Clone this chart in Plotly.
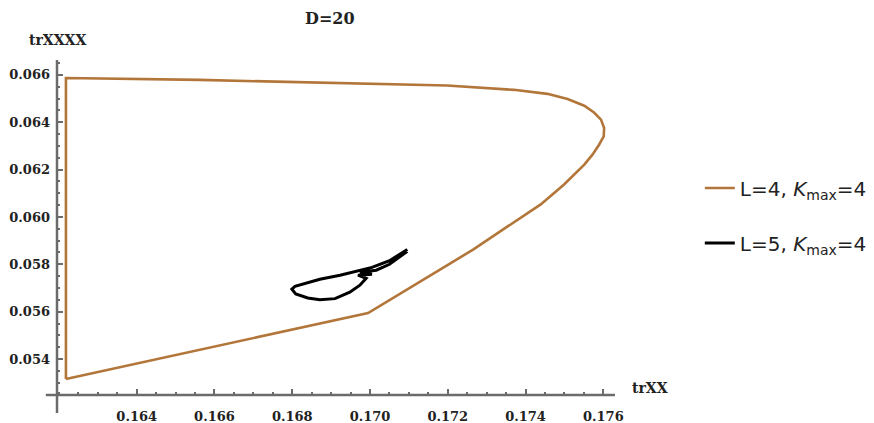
import plotly.graph_objects as go

# Data
orange_x = [0.16218, 0.16218, 0.16561, 0.17026, 0.17198, 0.17370, 0.17456, 0.17508, 0.17551,
            0.17576, 0.17594, 0.17602, 0.17601, 0.17589, 0.17572, 0.17551, 0.17525, 0.17499,
            0.17469, 0.17439, 0.17354, 0.17266, 0.17181, 0.17095, 0.16995, 0.16218]
orange_y = [0.05316, 0.06587, 0.06579, 0.06562, 0.06555, 0.06537, 0.06520, 0.06498, 0.06470,
            0.06441, 0.06411, 0.06376, 0.06340, 0.06305, 0.06263, 0.06221, 0.06179, 0.06137,
            0.06095, 0.06053, 0.05960, 0.05863, 0.05779, 0.05695, 0.05594, 0.05316]

black_x = [0.17096, 0.17052, 0.17005, 0.16967, 0.16923, 0.16871, 0.16832, 0.16807, 0.16799, 0.16809,
           0.16840, 0.16871, 0.16910, 0.16948, 0.16974, 0.16990, 0.16969, 0.17005, 0.16974, 0.17016,
           0.17050, 0.17096]
black_y = [0.05863, 0.05817, 0.05787, 0.05771, 0.05754, 0.05737, 0.05720, 0.05707, 0.05695, 0.05675,
           0.05658, 0.05650, 0.05655, 0.05682, 0.05712, 0.05741, 0.05754, 0.05758, 0.05766, 0.05775,
           0.05800, 0.05855]

x_ticks = [0.164, 0.166, 0.168, 0.170, 0.172, 0.174, 0.176]
y_ticks = [0.054, 0.056, 0.058, 0.060, 0.062, 0.064, 0.066]
x_tick_text = ["0.164", "0.166", "0.168", "0.170", "0.172", "0.174", "0.176"]
y_tick_text = ["0.054", "0.056", "0.058", "0.060", "0.062", "0.064", "0.066"]

names = ["L=4, <i>K</i><sub>max</sub>=4", "L=5, <i>K</i><sub>max</sub>=4"]

ORANGE = "#B3763A"
AXIS = "#6b6b6b"
serif = "DejaVu Serif"

fig = go.Figure()
fig.add_trace(go.Scatter(x=orange_x, y=orange_y, mode="lines", name=names[0],
                         line=dict(color=ORANGE, width=2.6), legend="legend"))
fig.add_trace(go.Scatter(x=black_x, y=black_y, mode="lines", name=names[1],
                         line=dict(color="black", width=3), legend="legend2"))

axis_common = dict(showgrid=False, zeroline=False, showline=False, automargin=False,
                   ticks="inside", ticklen=6, tickwidth=2, tickcolor=AXIS,
                   tickfont=dict(family=serif, size=13, color="#222", weight="bold"),
                   tickmode="array",
                   minor=dict(ticks="inside", ticklen=3, tickwidth=1.5, tickcolor=AXIS,
                              dtick=0.0005, showgrid=False))

fig.update_xaxes(range=[0.16195, 0.1763], tickvals=x_ticks, ticktext=x_tick_text,
                 ticklabelstandoff=12, **axis_common)
fig.update_xaxes(minor_tick0=0.162)
fig.update_yaxes(range=[0.05248, 0.06663], tickvals=y_ticks, ticktext=y_tick_text,
                 ticklabelstandoff=6, **axis_common)
fig.update_yaxes(minor_tick0=0.054)

legend_font = dict(family="DejaVu Sans", size=20, color="#222")

fig.update_layout(
    width=866, height=415,
    margin=dict(l=49, r=259, t=52, b=28, autoexpand=False),
    plot_bgcolor="white", paper_bgcolor="white",
    showlegend=True,
    legend=dict(x=1.152, y=0.618, xanchor="left", yanchor="middle",
                font=legend_font, bgcolor="rgba(0,0,0,0)", itemwidth=30),
    legend2=dict(x=1.152, y=0.454, xanchor="left", yanchor="middle",
                 font=legend_font, bgcolor="rgba(0,0,0,0)", itemwidth=30),
    shapes=[
        dict(type="line", xref="paper", yref="paper", x0=-0.02, x1=1.0, y0=0, y1=0,
             line=dict(color=AXIS, width=2.5)),
        dict(type="line", xref="paper", yref="paper", x0=0, x1=0, y0=-0.054, y1=1.0,
             line=dict(color=AXIS, width=2.5)),
    ],
    annotations=[
        dict(text="<b>D=20</b>", xref="paper", yref="paper", x=0.489, y=1.125,
             xanchor="center", yanchor="middle", showarrow=False,
             font=dict(family=serif, size=16, color="#222")),
        dict(text="<b>trXXXX</b>", xref="paper", yref="paper", x=0.0, y=1.06,
             xanchor="center", yanchor="middle", showarrow=False,
             font=dict(family=serif, size=14, color="#222")),
        dict(text="<b>trXX</b>", xref="paper", yref="paper", x=1.027, y=0.021,
             xanchor="left", yanchor="middle", showarrow=False,
             font=dict(family=serif, size=14, color="#222")),
    ],
)

fig.write_html("out.html")
